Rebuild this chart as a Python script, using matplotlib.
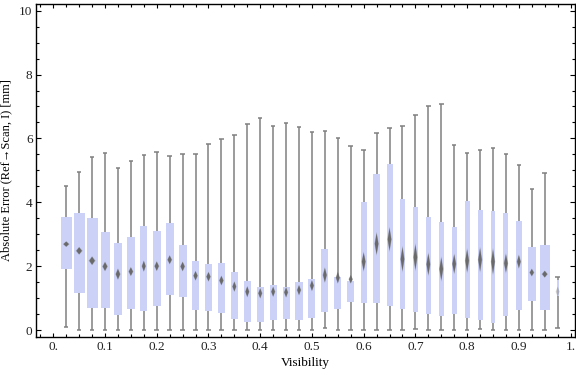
import matplotlib
matplotlib.use("Agg")
import matplotlib.pyplot as plt
from matplotlib.ticker import MultipleLocator, FixedLocator, FixedFormatter
import numpy as np

# ---- data ----
visibility = [0.025 * k for k in range(1, 40)]
whisker_lo = [0.08, 0, 0, 0, 0, 0, 0, 0, 0, 0,
              0, 0, 0, 0, 0, 0, 0, 0, 0, 0,
              0.05, 0, 0, 0, 0, 0, 0, 0.02, 0, 0,
              0, 0, 0.03, 0, 0, 0, 0, 0, 0.05]
whisker_hi = [4.50, 4.94, 5.41, 5.53, 5.06, 5.28, 5.47, 5.56, 5.44, 5.50,
              5.50, 5.82, 5.97, 6.10, 6.44, 6.63, 6.38, 6.47, 6.35, 6.19,
              6.22, 6.00, 5.75, 5.63, 6.16, 6.32, 6.38, 6.72, 7.00, 7.07,
              5.78, 5.53, 5.63, 5.69, 5.50, 5.16, 4.41, 4.91, 1.65]
q1 = [1.92, 1.17, 0.70, 0.70, 0.48, 0.67, 0.61, 0.76, 1.11, 1.04,
      0.64, 0.61, 0.54, 0.35, 0.26, 0.26, 0.32, 0.35, 0.32, 0.39,
      0.57, 0.67, 0.89, 0.86, 0.86, 0.76, 0.67, 0.57, 0.51, 0.45,
      0.51, 0.39, 0.32, 0.23, 0.45, 0.64, 0.92, 0.64, 1.05]
q3 = [3.54, 3.66, 3.51, 3.07, 2.72, 2.91, 3.26, 3.10, 3.35, 2.66,
      2.16, 2.07, 2.10, 1.82, 1.53, 1.35, 1.41, 1.35, 1.50, 1.60,
      2.53, 1.66, 1.53, 4.01, 4.89, 5.20, 4.10, 3.85, 3.54, 3.38,
      3.23, 4.04, 3.76, 3.73, 3.66, 3.41, 2.60, 2.66, 1.57]
mean = [2.69, 2.48, 2.17, 1.99, 1.75, 1.83, 2.00, 2.00, 2.20, 1.99,
        1.70, 1.67, 1.55, 1.36, 1.20, 1.15, 1.20, 1.18, 1.25, 1.39,
        1.72, 1.64, 1.59, 2.14, 2.70, 2.84, 2.22, 2.28, 2.06, 1.91,
        2.07, 2.17, 2.20, 2.14, 2.09, 2.14, 1.80, 1.75, 1.20]
mean_ci = [0.08, 0.11, 0.125, 0.135, 0.16, 0.13, 0.16, 0.14, 0.13, 0.14,
           0.14, 0.14, 0.14, 0.15, 0.16, 0.15, 0.15, 0.15, 0.15, 0.16,
           0.22, 0.17, 0.125, 0.28, 0.33, 0.35, 0.37, 0.39, 0.33, 0.35,
           0.29, 0.35, 0.36, 0.38, 0.28, 0.20, 0.11, 0.10, 0.15]
rel_width = [0.97, 1.0, 1.0, 0.82, 0.75, 0.73, 0.64, 0.73, 0.73, 0.73,
             0.70, 0.70, 0.70, 0.64, 0.61, 0.64, 0.64, 0.64, 0.64, 0.64,
             0.64, 0.64, 0.64, 0.57, 0.57, 0.55, 0.45, 0.45, 0.45, 0.45,
             0.45, 0.45, 0.45, 0.45, 0.45, 0.55, 0.73, 0.91, 0.18]

xticks = [0.0, 0.1, 0.2, 0.3, 0.4, 0.5, 0.6, 0.7, 0.8, 0.9, 1.0]
xtick_labels = ["0.", "0.1", "0.2", "0.3", "0.4", "0.5", "0.6", "0.7", "0.8", "0.9", "1."]
yticks = [0, 2, 4, 6, 8, 10]

# ---- style ----
BOX = (0.798413, 0.824290, 0.968665)
WHISK = "#808080"
DIAM = "#6a6a6a"
serif = ["Liberation Serif", "DejaVu Serif"]

fig = plt.figure(figsize=(5.76, 3.77), dpi=100)
ax = fig.add_axes([36 / 576, 1 - 337 / 377, (575 - 36) / 576, (337 - 4) / 377])
ax.set_xlim(-0.0334, 1.0085)
ax.set_ylim(-0.219, 10.21)

x = np.array(visibility)
max_w = 11.0 / 517.3  # widest box in data units
w = np.array(rel_width) * max_w

ax.vlines(x, whisker_lo, whisker_hi, color=WHISK, lw=1.1, zorder=1)
cap = 4.5 / 517.3
ax.hlines(whisker_lo, x - cap / 2, x + cap / 2, color=WHISK, lw=1.1, zorder=1)
ax.hlines(whisker_hi, x - cap / 2, x + cap / 2, color=WHISK, lw=1.1, zorder=1)
ax.bar(x, np.array(q3) - np.array(q1), bottom=q1, width=w, color=BOX,
       edgecolor="none", zorder=2)

min_dw = 3.5 / 517.3
for xi, m, h, wi in zip(x, mean, mean_ci, w):
    dw = max(wi * 0.5, min_dw) / 2
    strength = 1.0 if wi >= min_dw else 0.3
    ax.fill([xi - dw * 1.3, xi, xi + dw * 1.3, xi], [m, m + h * 1.15, m, m - h * 1.15],
            color=DIAM, alpha=0.35 * strength, lw=0, zorder=3)
    ax.fill([xi - dw, xi, xi + dw, xi], [m, m + h, m, m - h],
            color=DIAM, alpha=strength, lw=0, zorder=3)

ax.xaxis.set_major_locator(FixedLocator(xticks))
ax.xaxis.set_major_formatter(FixedFormatter(xtick_labels))
ax.xaxis.set_minor_locator(MultipleLocator(0.025))
ax.yaxis.set_major_locator(FixedLocator(yticks))
ax.yaxis.set_minor_locator(MultipleLocator(0.5))

ax.tick_params(axis="x", which="major", direction="in", length=2.6, width=0.8,
               top=True, bottom=True, pad=3.0, labelsize=9.5, labelcolor="#222222")
ax.tick_params(axis="x", which="minor", direction="in", length=2.0, width=0.8,
               top=True, bottom=True)
ax.tick_params(axis="y", which="major", direction="in", length=3.4, width=0.8,
               left=True, right=True, pad=2.5, labelsize=9.5, labelcolor="#222222")
ax.tick_params(axis="y", which="minor", direction="in", length=2.0, width=0.8,
               left=True, right=True)
for lab in ax.get_xticklabels() + ax.get_yticklabels():
    lab.set_family(serif)

for s in ax.spines.values():
    s.set_linewidth(1.0)
    s.set_color("black")

ax.set_xlabel("Visibility", family=serif, fontsize=9.5, labelpad=3)
ax.set_ylabel("Absolute Error (Ref\u2192Scan, I) [mm]", family=serif, fontsize=9,
              labelpad=5)

fig.savefig("out.png", dpi=100)
